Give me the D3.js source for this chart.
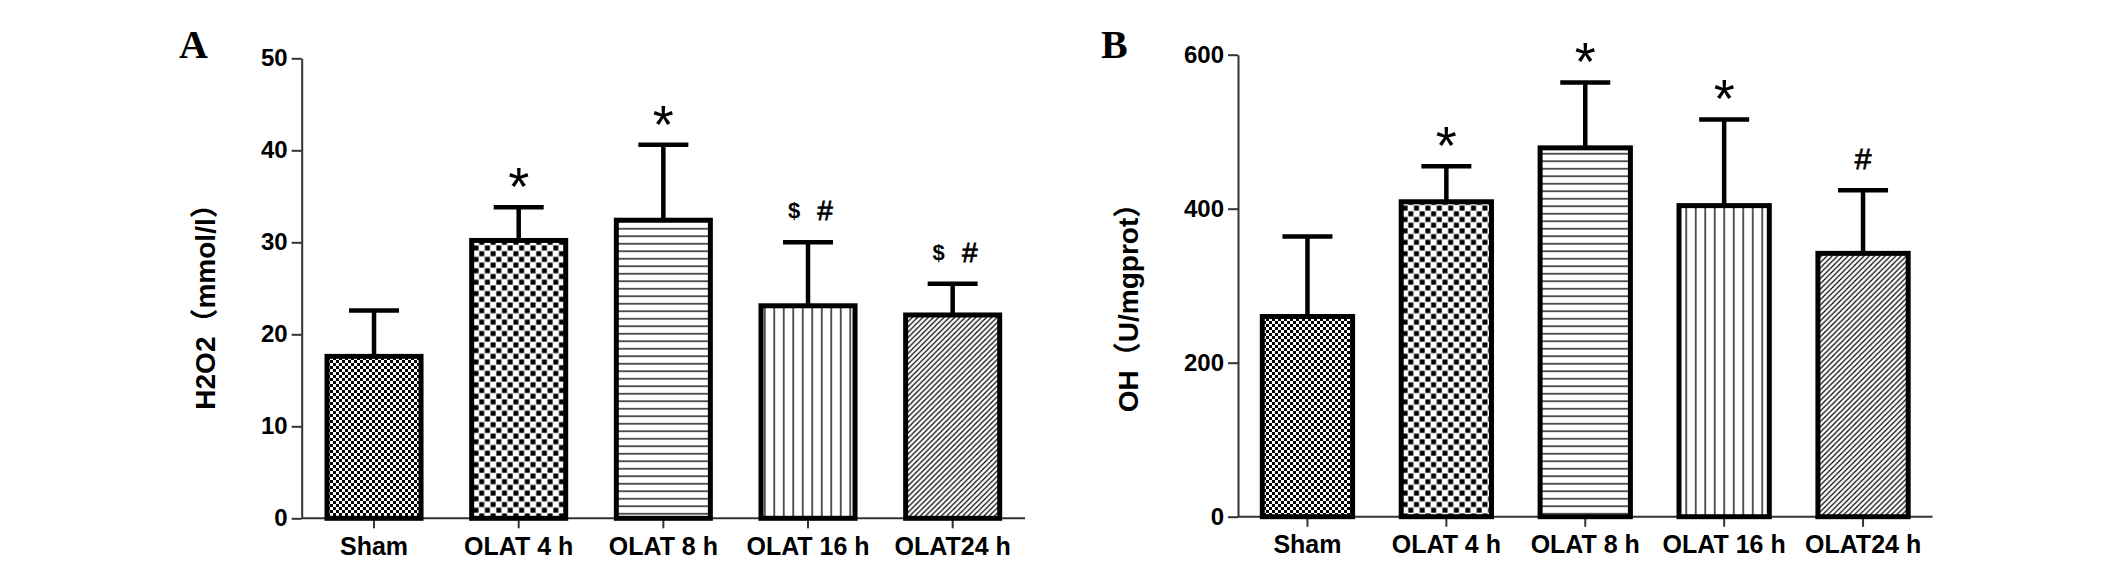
<!DOCTYPE html>
<html>
<head>
<meta charset="utf-8">
<script src="https://cdn.jsdelivr.net/npm/d3@7"></script>
<style>
body { margin: 0; background: #fff; }
text { font-family: "Liberation Sans", Arial, "Noto Sans CJK SC", sans-serif; }
</style>
</head>
<body>
<svg id="chart" width="2126" height="566"></svg>
<script>
// groups on the x axis (same for both panels)
var groups = ["Sham", "OLAT 4 h", "OLAT 8 h", "OLAT 16 h", "OLAT24 h"]

// panel A : H2O2
var h2o2Mean = [17.6, 30.2, 32.4, 23.1, 22.1]
var h2o2Sd = [5.0, 3.6, 8.2, 6.9, 3.4]
var h2o2Marks = ["", "*", "*", "$ #", "$ #"]
var h2o2Ticks = [0, 10, 20, 30, 40, 50]

// panel B : OH
var ohMean = [260, 409, 479, 404, 342]
var ohSd = [104, 46, 85, 112, 82]
var ohMarks = ["", "*", "*", "*", "#"]
var ohTicks = [0, 200, 400, 600]

var svg = d3.select("#chart")
var defs = svg.append("defs")

// fill patterns, one per group
var p0 = defs.append("pattern").attr("id", "pat0").attr("patternUnits", "userSpaceOnUse")
	.attr("width", 6).attr("height", 6)
p0.append("rect").attr("width", 6).attr("height", 6).attr("fill", "#fff")
p0.append("rect").attr("width", 3).attr("height", 3).attr("fill", "#000")
p0.append("rect").attr("x", 3).attr("y", 3).attr("width", 3).attr("height", 3).attr("fill", "#000")

var p1 = defs.append("pattern").attr("id", "pat1").attr("patternUnits", "userSpaceOnUse")
	.attr("width", 11.4).attr("height", 11.4)
p1.append("rect").attr("width", 11.4).attr("height", 11.4).attr("fill", "#fff")
p1.append("rect").attr("x", 0.4).attr("y", 0.4).attr("width", 5).attr("height", 5).attr("fill", "#000")
p1.append("rect").attr("x", 6.1).attr("y", 6.1).attr("width", 5).attr("height", 5).attr("fill", "#000")

var p2 = defs.append("pattern").attr("id", "pat2").attr("patternUnits", "userSpaceOnUse")
	.attr("width", 10).attr("height", 7.5)
p2.append("rect").attr("width", 10).attr("height", 7.5).attr("fill", "#fff")
p2.append("line").attr("x1", 0).attr("x2", 10).attr("y1", 3.75).attr("y2", 3.75)
	.attr("stroke", "#000").attr("stroke-width", 1.3)

var p3 = defs.append("pattern").attr("id", "pat3").attr("patternUnits", "userSpaceOnUse")
	.attr("width", 9.5).attr("height", 10)
p3.append("rect").attr("width", 9.5).attr("height", 10).attr("fill", "#fff")
p3.append("line").attr("x1", 4.75).attr("x2", 4.75).attr("y1", 0).attr("y2", 10)
	.attr("stroke", "#000").attr("stroke-width", 1.3)

var s = 5.3
var p4 = defs.append("pattern").attr("id", "pat4").attr("patternUnits", "userSpaceOnUse")
	.attr("width", s).attr("height", s)
p4.append("rect").attr("width", s).attr("height", s).attr("fill", "#fff")
p4.append("path")
	.attr("d", "M0," + s + "L" + s + ",0M-1,1L1,-1M" + (s - 1) + "," + (s + 1) + "L" + (s + 1) + "," + (s - 1))
	.attr("stroke", "#000").attr("stroke-width", 1.2)

function panel(opt) {
	var x = d3.scaleBand().domain(groups).range([opt.left, opt.right])
		.paddingInner(0.35).paddingOuter(0.175)
	var y = d3.scaleLinear().domain([0, opt.ticks[opt.ticks.length - 1]]).range([opt.bottom, opt.top])

	var g = svg.append("g")

	// y axis
	var ya = g.append("g").attr("transform", "translate(" + opt.left + ",0)")
		.call(d3.axisLeft(y).tickValues(opt.ticks).tickSize(10).tickSizeOuter(0).tickPadding(4))
	// x axis
	var xa = g.append("g").attr("transform", "translate(0," + opt.bottom + ")")
		.call(d3.axisBottom(x).tickSize(10).tickSizeOuter(0).tickPadding(9))

	g.selectAll(".domain").attr("stroke", "#333").attr("stroke-width", 2)
	g.selectAll(".tick line").attr("stroke", "#333").attr("stroke-width", 2)
	g.selectAll(".tick text").attr("font-size", 24).attr("font-weight", "bold")
		.attr("fill", "#000").style("font-family", "'Liberation Sans', Arial, sans-serif")
	xa.selectAll(".tick text").attr("font-size", 25)
	xa.select(".domain").attr("d", "M" + opt.left + ",0H" + opt.right)

	var cx = function(d, i) { return x(groups[i]) + x.bandwidth() / 2 }

	// error bars
	g.selectAll(".err").data(opt.mean).enter().append("line")
		.attr("x1", cx).attr("x2", cx)
		.attr("y1", function(d) { return y(d) })
		.attr("y2", function(d, i) { return y(d + opt.sd[i]) })
		.attr("stroke", "#000").attr("stroke-width", 4.5)
	g.selectAll(".cap").data(opt.mean).enter().append("line")
		.attr("x1", function(d, i) { return cx(d, i) - 25 })
		.attr("x2", function(d, i) { return cx(d, i) + 25 })
		.attr("y1", function(d, i) { return y(d + opt.sd[i]) })
		.attr("y2", function(d, i) { return y(d + opt.sd[i]) })
		.attr("stroke", "#000").attr("stroke-width", 4.5)

	// bars
	g.selectAll(".bar").data(opt.mean).enter().append("rect")
		.attr("x", function(d, i) { return x(groups[i]) })
		.attr("y", function(d) { return y(d) })
		.attr("width", x.bandwidth())
		.attr("height", function(d) { return y(0) - y(d) })
		.attr("fill", function(d, i) { return "url(#pat" + i + ")" })
		.attr("stroke", "#000").attr("stroke-width", 5)

	// significance marks
	opt.marks.forEach(function(m, i) {
		if (!m) return
		var c = cx(0, i)
		var my = y(opt.mean[i] + opt.sd[i]) - 32
		if (m == "*") {
			g.append("text").attr("x", c).attr("y", my + 30).attr("text-anchor", "middle")
				.attr("font-size", 54).text("*")
		} else if (m == "#") {
			g.append("text").attr("x", c).attr("y", my + 11).attr("text-anchor", "middle")
				.attr("font-size", 30).attr("stroke", "#000").attr("stroke-width", 0.8).text("#")
		} else {
			g.append("text").attr("x", c - 14).attr("y", my + 8).attr("text-anchor", "middle")
				.attr("font-size", 22).attr("font-weight", "bold").text("$")
			g.append("text").attr("x", c + 17).attr("y", my + 10).attr("text-anchor", "middle")
				.attr("font-size", 28).attr("stroke", "#000").attr("stroke-width", 0.8).text("#")
		}
	})

	// axis title
	g.append("text").attr("transform", "translate(" + opt.labelX + "," + opt.labelY + ") rotate(-90)")
		.attr("text-anchor", "middle").attr("font-size", 28).attr("font-weight", "bold")
		.text(opt.label)

	// panel letter
	g.append("text").attr("x", opt.letterX).attr("y", 58)
		.style("font-family", "'Liberation Serif', 'Times New Roman', serif")
		.attr("font-size", 40).attr("font-weight", "bold").text(opt.letter)
}

panel({left: 301.7, right: 1025, top: 58.3, bottom: 518.3, ticks: h2o2Ticks,
	mean: h2o2Mean, sd: h2o2Sd, marks: h2o2Marks,
	label: "H2O2（mmol/l）", labelX: 215, labelY: 300, letter: "A", letterX: 179})

panel({left: 1238, right: 1932.5, top: 54.7, bottom: 516.7, ticks: ohTicks,
	mean: ohMean, sd: ohSd, marks: ohMarks,
	label: "OH（U/mgprot）", labelX: 1138, labelY: 301, letter: "B", letterX: 1101})
</script>
</body>
</html>
